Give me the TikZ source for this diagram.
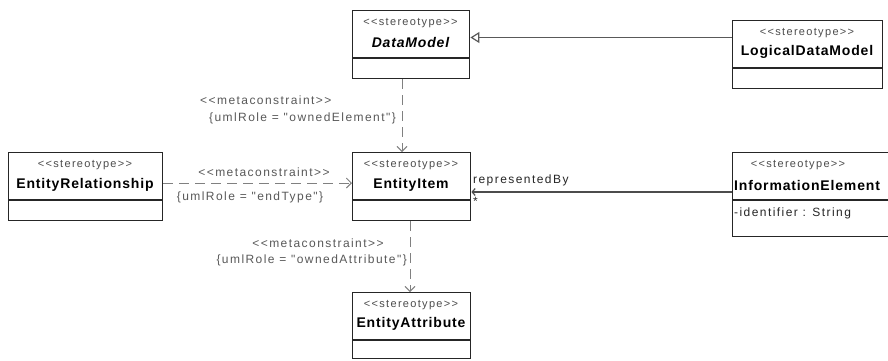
\documentclass[tikz,border=0pt]{standalone}
\usepackage{fontspec}
\usetikzlibrary{arrows.meta,calc}
\newfontfamily\ulab[LetterSpace=12]{Liberation Sans}
\newfontfamily\uname[LetterSpace=6]{Liberation Sans}
\begin{document}
\begin{tikzpicture}[x=1pt,y=-1pt,
  box/.style={draw=black!85, line width=1.4pt, fill=white, anchor=north west, inner sep=0pt},
  sepline/.style={draw=black!85, line width=1.4pt},
  st/.style={font=\ulab\fontsize{11}{13}\selectfont, text=black!70, inner sep=0pt},
  nm/.style={font=\uname\bfseries\fontsize{14}{16}\selectfont, text=black, inner sep=0pt},
  lab/.style={font=\ulab\fontsize{12}{14}\selectfont, text=black!65, inner sep=0pt},
  dep/.style={draw=black!50, line width=0.9pt, dash pattern=on 10pt off 6pt, -{Straight Barb[length=5pt,width=10pt]}},
  gen/.style={draw=black!65, line width=1.2pt, -{Triangle[open,length=9pt,width=11pt,fill=white]}},
  assoc/.style={draw=black!70, line width=1.2pt, -{Straight Barb[length=3pt,width=7pt]}}]
\useasboundingbox[fill=white] (0,0) rectangle (888,360);

% classes
\node[box, minimum width=117pt, minimum height=68pt] (dm) at (352,10) {};
\node[box, minimum width=150pt, minimum height=68pt] (ldm) at (732,20) {};
\node[box, minimum width=154pt, minimum height=68pt] (er) at (8,152) {};
\node[box, minimum width=118pt, minimum height=68pt] (ei) at (352,152) {};
\node[box, minimum width=165pt, minimum height=84pt] (ie) at (732,152) {};
\node[box, minimum width=118pt, minimum height=66pt] (ea) at (352,292) {};

% compartment separators
\draw[sepline] ($(dm.north west)+(0,48)$) -- ($(dm.north east)+(0,48)$);
\draw[sepline] ($(ldm.north west)+(0,48)$) -- ($(ldm.north east)+(0,48)$);
\draw[sepline] ($(er.north west)+(0,48)$) -- ($(er.north east)+(0,48)$);
\draw[sepline] ($(ei.north west)+(0,48)$) -- ($(ei.north east)+(0,48)$);
\draw[sepline] ($(ie.north west)+(0,48)$) -- ($(ie.north east)+(0,48)$);
\draw[sepline] ($(ea.north west)+(0,48)$) -- ($(ea.north east)+(0,48)$);

% class texts
\node[st] (dm-s) at (410.5,23) {<<stereotype>>};
\node[nm, font=\uname\bfseries\itshape\fontsize{14}{16}\selectfont] (dm-n) at (410.5,42) {DataModel};
\node[st] (ldm-s) at (807,33) {<<stereotype>>};
\node[nm] (ldm-n) at (807,52) {LogicalDataModel};
\node[st] (er-s) at (85,165) {<<stereotype>>};
\node[nm] (er-n) at (85,185) {EntityRelationship};
\node[st] (ei-s) at (411,165) {<<stereotype>>};
\node[nm] (ei-n) at (411,185) {EntityItem};
\node[st] (ie-s) at (798,165) {<<stereotype>>};
\node[nm, anchor=west] (ie-n) at (734,185) {InformationElement};
\node[lab, anchor=west, text=black!85] (ie-a) at (734,213) {-identifier : String};
\node[st] (ea-s) at (411,305) {<<stereotype>>};
\node[nm] (ea-n) at (411,324) {EntityAttribute};

% connectors
\draw[gen] ($(ldm.north west)+(0,17.5)$) -- ($(dm.north east)+(0,27.5)$);
\draw[dep] ($(dm.south west)+(50,0)$) -- ($(ei.north west)+(50,0)$);
\draw[dep] ($(er.north east)+(0,31)$) -- ($(ei.north west)+(0,31)$);
\draw[dep] ($(ei.south west)+(58,0)$) -- ($(ea.north west)+(58,0)$);
\draw[assoc] ($(ie.north west)+(0,40)$) -- ($(ei.north east)+(0,40)$);

% connector labels
\node[lab, anchor=west] (l1a) at (200,100) {<<metaconstraint>>};
\node[lab, anchor=east] (l1b) at (396,118) {\{umlRole = "ownedElement"\}};
\node[lab] (l2a) at (264,172) {<<metaconstraint>>};
\node[lab] (l2b) at (250,197) {\{umlRole = "endType"\}};
\node[lab] (l3a) at (318,243) {<<metaconstraint>>};
\node[lab, anchor=east] (l3b) at (407,260) {\{umlRole = "ownedAttribute"\}};
\node[lab, anchor=west, text=black!85] (l4a) at (473,180) {representedBy};
\node[lab, anchor=west, text=black!85] (l4b) at (473,201) {*};
\end{tikzpicture}
\end{document}
